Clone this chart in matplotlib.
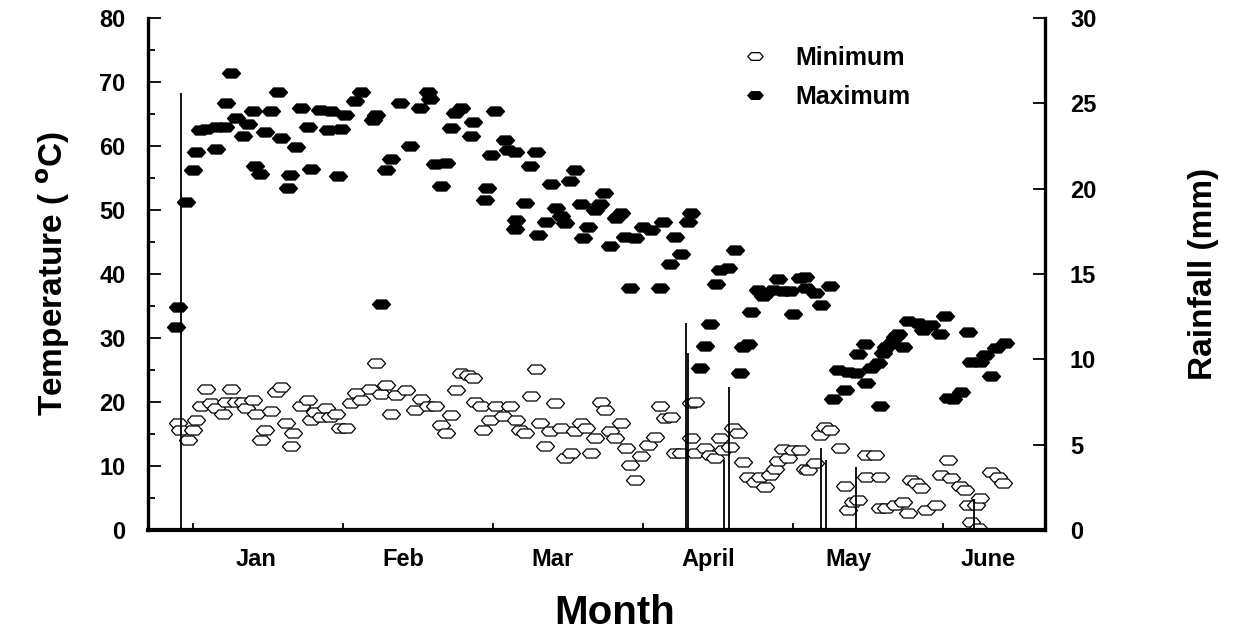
import numpy as np
import matplotlib
matplotlib.use("Agg")
import matplotlib.pyplot as plt
from matplotlib.path import Path
from matplotlib.ticker import MultipleLocator, FixedLocator

# day 0 = 1 January, months drawn as 30-day blocks
max_day = [-3.3, -2.9, -1.3, 0.1, 0.7, 1.4, 2.7, 4.7, 4.7, 6.4, 6.7, 7.7, 8.7, 10.1, 11.1,
           12.1, 12.4, 13.4, 14.4, 15.7, 17.1, 17.7, 19.1, 19.4, 20.7, 21.7, 23.1, 23.7,
           25.4, 27.1, 27.7, 29.1, 29.7, 30.4, 32.4, 33.7, 36.1, 36.7, 37.7, 38.7, 39.7,
           41.4, 43.4, 45.4, 47.1, 47.4, 48.4, 49.7, 50.7, 51.7, 52.4, 53.7, 55.7, 56.1,
           58.4, 58.9, 59.7, 60.4, 62.4, 63.1, 64.4, 64.7, 64.4, 66.4, 67.4, 68.7, 69.1,
           70.7, 71.7, 72.7, 73.7, 74.4, 75.4, 76.4, 77.7, 78.1, 79.1, 80.4, 81.4, 82.3,
           83.4, 84.7, 85.7, 86.4, 87.4, 88.4, 90.1, 91.7, 93.4, 94.1, 95.4, 96.4, 97.7,
           99.1, 99.7, 101.4, 102.4, 103.4, 104.7, 105.4, 107.1, 108.4, 109.4, 110.1,
           111.1, 111.7, 113.1, 114.1, 114.7, 116.1, 117.1, 118.1, 119.4, 120.1, 121.4,
           122.4, 122.7, 124.4, 125.7, 127.4, 128.1, 129.1, 130.4, 131.1, 132.7, 133.1,
           134.4, 134.7, 135.7, 137.1, 137.4, 138.1, 138.7, 139.7, 140.4, 141.1, 142.1,
           143.1, 145.1, 146.1, 147.7, 149.4, 150.4, 151.1, 152.1, 153.7, 155.1, 155.7,
           157.4, 158.4, 159.6, 160.7, 162.4]
max_temp = [31.7, 34.9, 51.3, 56.3, 59.1, 62.5, 62.6, 62.9, 59.5, 62.9, 66.7, 71.4, 64.3, 61.6, 63.5,
            65.4, 56.9, 55.7, 62.2, 65.4, 68.5, 61.2, 53.5, 55.5, 59.8, 66.0, 63.0, 56.4,
            65.6, 62.5, 65.4, 55.3, 62.6, 64.8, 67.0, 68.5, 64.1, 64.8, 35.3, 56.3, 57.9,
            66.7, 60.0, 65.9, 68.5, 67.3, 57.2, 53.8, 57.4, 62.8, 65.2, 65.9, 61.5, 63.8,
            51.6, 53.4, 58.6, 65.4, 60.9, 59.4, 47.1, 48.4, 59.1, 51.1, 56.9, 59.1, 46.1,
            48.2, 54.1, 50.3, 49.0, 48.0, 54.6, 56.3, 51.0, 45.6, 47.4, 50.0, 51.0, 52.6,
            44.4, 48.7, 49.5, 45.8, 37.8, 45.6, 47.4, 46.9, 37.8, 48.2, 41.6, 45.8, 43.2,
            48.2, 49.5, 25.3, 28.8, 32.2, 38.5, 40.6, 40.9, 43.8, 24.5, 28.6,
            29.1, 34.1, 37.5, 36.5, 37.0, 37.5, 39.2, 37.4, 37.4, 33.8, 39.3,
            39.5, 37.8, 37.0, 35.2, 38.1, 20.4, 25.0, 21.9, 24.7, 24.5, 27.5,
            29.1, 22.9, 25.3, 26.1, 19.4, 27.6, 28.6, 29.2, 30.2, 30.7, 28.6,
            32.6, 32.3, 31.3, 32.0, 30.7, 33.4, 20.6, 20.4, 21.6, 31.0, 26.3,
            26.3, 27.3, 24.0, 28.4, 29.2]

min_day = [-2.9, -2.6, -0.9, 0.1, 0.7, 1.7, 2.7, 3.7, 4.7, 6.1, 6.7, 7.7, 8.7, 10.1, 10.7,
           12.1, 12.7, 13.7, 14.4, 15.7, 16.7, 17.7, 18.7, 19.7, 20.1, 21.7, 23.1, 23.7,
           24.4, 25.7, 26.7, 27.4, 28.7, 29.4, 30.7, 31.7, 32.7, 33.7, 35.4, 36.7, 37.7,
           38.7, 39.7, 40.7, 42.7, 44.4, 45.7, 47.1, 48.4, 49.7, 50.7, 51.7, 52.7, 53.7,
           55.1, 56.1, 56.4, 57.7, 58.1, 59.4, 60.7, 62.1, 63.4, 64.7, 65.4, 66.4, 67.7,
           68.7, 69.4, 70.4, 71.4, 72.4, 73.7, 74.4, 75.7, 76.4, 77.7, 78.7, 79.7, 80.4,
           81.7, 82.4, 83.4, 84.4, 85.7, 86.7, 87.4, 88.4, 89.7, 91.1, 92.4, 93.4, 94.4,
           95.7, 96.4, 97.7, 99.7, 99.7, 100.4, 100.4, 102.4, 103.4, 104.4, 105.4, 106.1,
           107.4, 108.1, 109.1, 110.1, 111.1, 112.4, 113.4, 114.4, 115.4, 116.4, 117.1,
           118.1, 119.1, 120.1, 121.4, 122.4, 123.1, 124.4, 125.4, 126.4, 127.4, 129.4,
           130.4, 131.1, 132.1, 133.1, 134.7, 134.7, 136.4, 137.4, 137.4, 138.7, 140.4,
           142.1, 143.1, 143.7, 144.7, 145.7, 146.7, 148.7, 149.7, 151.1, 151.7, 153.4,
           154.4, 155.1, 155.7, 156.7, 157.1, 157.4, 159.7, 161.1, 162.1]
min_temp = [16.7, 15.7, 14.1, 15.6, 17.2, 19.3, 22.1, 19.9, 19.0, 18.2, 20.0, 22.1, 20.0, 20.0, 19.0,
            20.3, 18.2, 14.1, 15.6, 18.6, 21.6, 22.3, 16.7, 13.1, 15.1, 19.4, 20.3, 17.2,
            18.5, 17.7, 19.0, 17.7, 18.2, 15.9, 15.9, 19.8, 21.4, 20.3, 22.1, 26.1, 21.3,
            22.7, 18.1, 21.1, 21.9, 18.8, 20.4, 19.3, 19.3, 16.4, 15.2, 18.0, 21.9, 24.5,
            24.2, 23.7, 20.0, 19.3, 15.6, 17.2, 19.3, 17.8, 19.3, 17.2, 15.6, 15.2, 20.9,
            25.1, 16.7, 13.1, 15.4, 19.8, 15.9, 11.2, 12.0, 15.4, 16.7, 15.9, 12.0, 14.3,
            20.0, 18.8, 15.4, 14.3, 16.7, 12.8, 10.2, 7.8, 11.6, 13.3, 14.6, 19.3, 17.5,
            17.7, 12.0, 12.0, 14.3, 19.8, 20.0, 12.0, 12.8, 11.7, 11.2, 14.3, 12.5,
            13.0, 15.9, 15.1, 10.7, 8.3, 7.5, 8.3, 6.7, 8.6, 9.6, 10.8,
            12.6, 11.2, 12.5, 12.5, 9.6, 9.4, 10.4, 14.8, 16.1, 15.6, 12.8,
            6.9, 3.1, 4.4, 4.7, 11.7, 8.3, 11.7, 8.3, 3.4, 3.4, 3.9,
            4.4, 2.6, 7.8, 7.3, 6.5, 3.1, 3.9, 8.6, 11.0, 8.1, 6.8,
            6.3, 3.9, 1.3, 3.9, 0.3, 5.0, 9.1, 8.3, 7.3]

rain_day = [-2.4, 98.7, 99.1, 106.2, 107.2, 125.6, 126.7, 132.7, 156.2]
rain_mm = [25.6, 12.1, 10.4, 4.1, 8.4, 4.8, 4.1, 3.7, 1.8]

month_names = ["Jan", "Feb", "Mar", "April", "May", "June"]
month_label_pos = [12.6, 42.0, 72.0, 103.0, 131.0, 159.0]
month_starts = [0, 30, 60, 90, 120, 150]

plt.rcParams['font.family'] = ['Liberation Sans', 'DejaVu Sans']
plt.rcParams['font.weight'] = 'bold'

# flat hexagon, wider than tall
hexagon = Path([(-1, 0), (-0.55, 0.5), (0.55, 0.5), (1, 0), (0.55, -0.5), (-0.55, -0.5), (-1, 0)],
               [Path.MOVETO] + [Path.LINETO] * 5 + [Path.CLOSEPOLY])

fig = plt.figure(figsize=(12.33, 6.39), dpi=100)
ax = fig.add_axes([0.12, 0.1706, 0.7275, 0.8012])

ax.plot(min_day, min_temp, linestyle='none', marker=hexagon, markersize=13,
        markerfacecolor='white', markeredgecolor='black', markeredgewidth=0.9, label='Minimum')
ax.plot(max_day, max_temp, linestyle='none', marker=hexagon, markersize=13,
        markerfacecolor='black', markeredgecolor='black', markeredgewidth=0.9, label='Maximum')

ax.set_xlim(-9, 170.4)
ax.set_ylim(0, 80)

ax2 = ax.twinx()
ax2.vlines(rain_day, 0, rain_mm, colors='black', linewidth=1.3)
ax2.set_ylim(0, 30)

for a in (ax, ax2):
    a.spines['top'].set_visible(False)
ax.spines['left'].set_linewidth(2.4)
ax.spines['bottom'].set_linewidth(3)
ax2.spines['right'].set_linewidth(2.4)
ax2.spines['left'].set_visible(False)
ax2.spines['bottom'].set_visible(False)

# left axis ticks
ax.yaxis.set_major_locator(MultipleLocator(10))
ax.yaxis.set_minor_locator(MultipleLocator(5))
ax.tick_params(axis='y', which='major', direction='in', length=9, width=1.3,
               labelsize=17, pad=16)
ax.tick_params(axis='y', which='minor', direction='in', length=5, width=1.3)

# month labels sit between the small tick marks
ax.xaxis.set_major_locator(FixedLocator(month_label_pos))
ax.set_xticklabels(month_names)
ax.xaxis.set_minor_locator(FixedLocator(month_starts))
ax.tick_params(axis='x', which='major', length=0, labelsize=17, pad=13)
ax.tick_params(axis='x', which='minor', direction='in', length=5, width=1.3)

ax2.yaxis.set_major_locator(MultipleLocator(5))
ax2.tick_params(axis='y', direction='in', length=9, width=1.3, labelsize=17, pad=18)

ax.set_xlabel('Month', fontsize=29, fontweight='bold')
ax.xaxis.set_label_coords(0.52, -0.125)
ax.set_ylabel('Temperature ( $^{\\mathbf{o}}$C)', fontsize=24, fontweight='bold', labelpad=20)
ax2.set_ylabel('Rainfall (mm)', fontsize=24, fontweight='bold', labelpad=66)

ax.legend(loc='upper left', bbox_to_anchor=(0.635, 0.99), frameon=False,
          markerscale=0.85, handlelength=1.2, handletextpad=1.0,
          labelspacing=0.6, prop={'weight': 'bold', 'size': 18})

fig.savefig('out.png', dpi=100)
